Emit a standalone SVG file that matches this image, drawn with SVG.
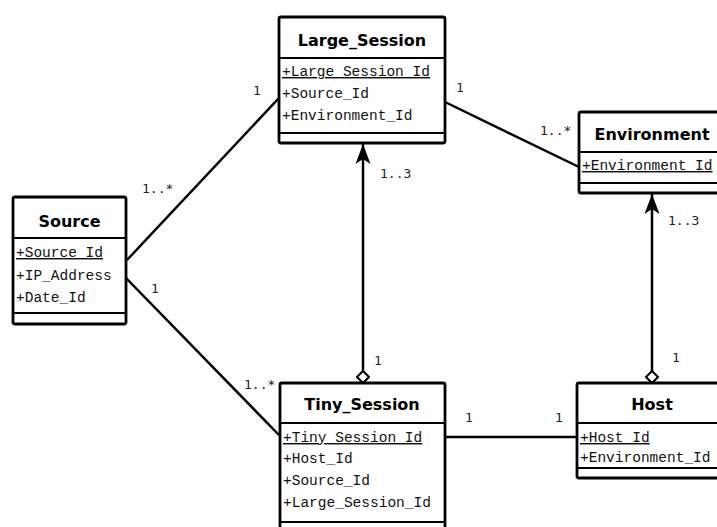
<svg xmlns="http://www.w3.org/2000/svg" width="717" height="527" viewBox="0 0 717 527">
<style>
.box{fill:#fff;stroke:#000;stroke-width:2.8}
.sep{stroke:#000;stroke-width:2.2}
.title{font-family:"DejaVu Sans",sans-serif;font-weight:bold;font-size:16px;text-anchor:middle;fill:#000}
.attr{font-family:"Liberation Mono",monospace;font-size:14.5px;fill:#111}
.id{text-decoration:underline}
.lbl{font-family:"DejaVu Sans Mono",monospace;font-size:13px;fill:#222}
.conn{stroke:#000;stroke-width:2.5;fill:none}
</style>
<defs>
<marker id="arrow" viewBox="0 0 20 16" refX="20" refY="8" markerWidth="20" markerHeight="16" markerUnits="userSpaceOnUse" orient="auto-start-reverse">
<path d="M20 8 L0 0.5 L5 8 L0 15.5 Z" fill="#000"/>
</marker>
<marker id="diamond" viewBox="0 0 14 14" refX="13" refY="7" markerWidth="14" markerHeight="14" markerUnits="userSpaceOnUse" orient="auto">
<path d="M1 7 L7 1 L13 7 L7 13 Z" fill="#fff" stroke="#000" stroke-width="2"/>
</marker>
</defs>
<rect width="717" height="527" fill="#fff"/>
<g id="connectors">
<line class="conn" x1="127" y1="260" x2="279" y2="98"/>
<line class="conn" x1="125" y1="277" x2="279" y2="435"/>
<line class="conn" x1="445" y1="102" x2="579" y2="167"/>
<line class="conn" x1="445" y1="437" x2="577" y2="437"/>
<line class="conn" x1="363" y1="144" x2="363" y2="383" marker-start="url(#arrow)" marker-end="url(#diamond)"/>
<line class="conn" x1="652" y1="194" x2="652" y2="383" marker-start="url(#arrow)" marker-end="url(#diamond)"/>
<text class="lbl" x="142" y="193">1..*</text>
<text class="lbl" x="253" y="95">1</text>
<text class="lbl" x="151" y="293">1</text>
<text class="lbl" x="244" y="389">1..*</text>
<text class="lbl" x="456" y="92">1</text>
<text class="lbl" x="540" y="135">1..*</text>
<text class="lbl" x="380" y="178">1..3</text>
<text class="lbl" x="374" y="365">1</text>
<text class="lbl" x="668" y="225">1..3</text>
<text class="lbl" x="672" y="362">1</text>
<text class="lbl" x="465" y="422">1</text>
<text class="lbl" x="555" y="422">1</text>
</g>
<g id="Large_Session">
<rect class="box" x="279" y="17" width="166" height="126" rx="2"/>
<line class="sep" x1="279" y1="58" x2="445" y2="58"/>
<line class="sep" x1="279" y1="133" x2="445" y2="133"/>
<text class="title" x="362" y="46">Large_Session</text>
<text class="attr id" x="282" y="76">+Large Session Id</text>
<text class="attr" x="282" y="98">+Source_Id</text>
<text class="attr" x="282" y="120">+Environment_Id</text>
</g>
<g id="Environment">
<rect class="box" x="579" y="112" width="146" height="81" rx="2"/>
<line class="sep" x1="579" y1="152" x2="725" y2="152"/>
<line class="sep" x1="579" y1="183" x2="725" y2="183"/>
<text class="title" x="652" y="140">Environment</text>
<text class="attr id" x="582" y="170">+Environment Id</text>
</g>
<g id="Source">
<rect class="box" x="13" y="197" width="113" height="127" rx="2"/>
<line class="sep" x1="13" y1="238" x2="126" y2="238"/>
<line class="sep" x1="13" y1="313" x2="126" y2="313"/>
<text class="title" x="69.5" y="227">Source</text>
<text class="attr id" x="16" y="257">+Source_Id</text>
<text class="attr" x="16" y="280">+IP_Address</text>
<text class="attr" x="16" y="302">+Date_Id</text>
</g>
<g id="Tiny_Session">
<rect class="box" x="280" y="383" width="165" height="160" rx="2"/>
<line class="sep" x1="280" y1="423" x2="445" y2="423"/>
<line class="sep" x1="280" y1="522" x2="445" y2="522"/>
<text class="title" x="362" y="410">Tiny_Session</text>
<text class="attr id" x="283" y="442">+Tiny Session Id</text>
<text class="attr" x="283" y="463">+Host_Id</text>
<text class="attr" x="283" y="485">+Source_Id</text>
<text class="attr" x="283" y="507">+Large_Session_Id</text>
</g>
<g id="Host">
<rect class="box" x="577" y="383" width="150" height="95" rx="2"/>
<line class="sep" x1="577" y1="423" x2="727" y2="423"/>
<line class="sep" x1="577" y1="468" x2="727" y2="468"/>
<text class="title" x="652" y="410">Host</text>
<text class="attr id" x="580" y="442">+Host Id</text>
<text class="attr" x="580" y="462">+Environment_Id</text>
</g>
</svg>
